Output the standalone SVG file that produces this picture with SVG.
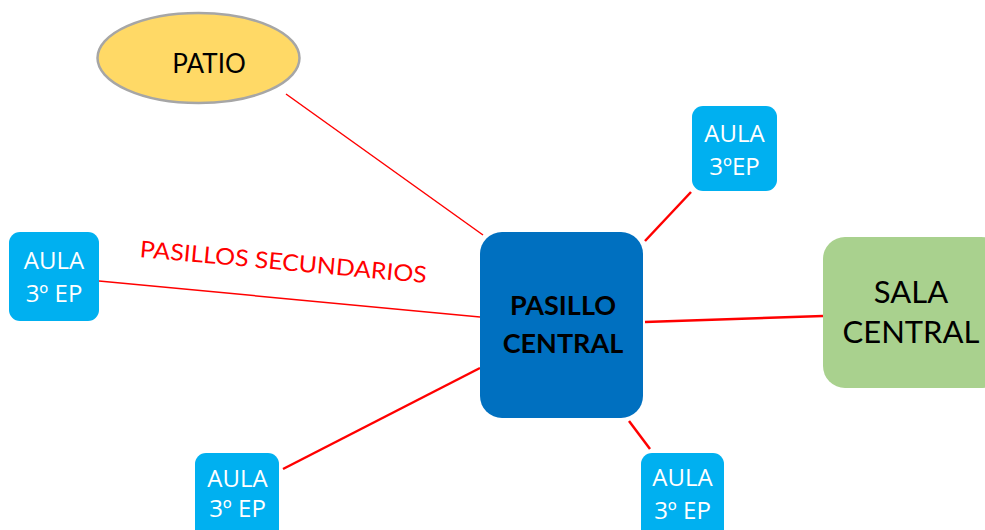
<svg xmlns="http://www.w3.org/2000/svg" width="985" height="530" viewBox="0 0 985 530">
<style>
text{font-family:Lato,"Open Sans","Liberation Sans",sans-serif;text-anchor:middle}
.aula rect{fill:#00B0F0}
.aula text{fill:#fff;font-size:24px;font-family:"Open Sans",Lato,sans-serif}
.c line{stroke:#FF0000;stroke-linecap:butt}
</style>
<rect width="985" height="530" fill="#fff"/>
<g class="c" id="connectors">
<line x1="286" y1="94" x2="483" y2="235" stroke-width="1.5"/>
<line x1="99" y1="281" x2="480" y2="317" stroke-width="1.5"/>
<line x1="691" y1="192" x2="645" y2="241" stroke-width="2.5"/>
<line x1="645" y1="322" x2="823" y2="316" stroke-width="2.5"/>
<line x1="283" y1="469" x2="480" y2="368" stroke-width="2.5"/>
<line x1="629" y1="421" x2="650" y2="449" stroke-width="2.5"/>
<text x="283" y="270" fill="#FF0000" font-size="23" textLength="288" lengthAdjust="spacingAndGlyphs" transform="rotate(5.2 283 266)">PASILLOS SECUNDARIOS</text>
</g>
<g id="patio">
<ellipse cx="198.5" cy="58" rx="101" ry="45" fill="#FFD966" stroke="#A6A6A6" stroke-width="2.5"/>
<text x="209" y="73" font-size="26" fill="#000">PATIO</text>
</g>
<g id="pasillo-central">
<rect x="480" y="232" width="163" height="186" rx="22" fill="#0070C0"/>
<text x="563" y="315" font-size="27" font-weight="bold" fill="#000">PASILLO</text>
<text x="563" y="353" font-size="27" font-weight="bold" fill="#000">CENTRAL</text>
</g>
<g id="sala-central">
<rect x="823" y="237" width="180" height="151" rx="22" fill="#A9D18E"/>
<text x="911" y="303" font-size="31" fill="#000">SALA</text>
<text x="911" y="343" font-size="31" fill="#000">CENTRAL</text>
</g>
<g id="aula-left" class="aula">
<rect x="9" y="232" width="90" height="89" rx="11"/>
<text x="54" y="269">AULA</text>
<text x="54" y="302">3º EP</text>
</g>
<g id="aula-top-right" class="aula">
<rect x="692" y="106" width="85" height="85" rx="11"/>
<text x="734.5" y="142">AULA</text>
<text x="734.5" y="175">3ºEP</text>
</g>
<g id="aula-bottom-left" class="aula">
<rect x="195" y="453" width="84" height="90" rx="11"/>
<text x="237.5" y="487">AULA</text>
<text x="237.5" y="517">3º EP</text>
</g>
<g id="aula-bottom-right" class="aula">
<rect x="641" y="453" width="83" height="90" rx="11"/>
<text x="682.5" y="486">AULA</text>
<text x="682.5" y="519">3º EP</text>
</g>
</svg>
